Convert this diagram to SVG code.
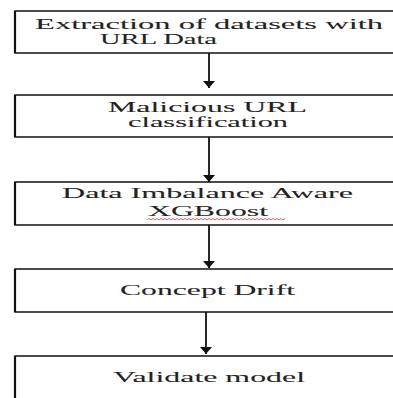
<svg xmlns="http://www.w3.org/2000/svg" width="393" height="398" viewBox="0 0 393 398">
  <style>
    .box { fill: #ffffff; stroke: #111111; stroke-width: 1.5; }
    .edge { stroke: #111111; stroke-width: 2.2; }
    .label { font-family: "Liberation Serif", "DejaVu Serif", serif; font-size: 15px; fill: #222222; stroke: #444444; stroke-width: 0.1; }
    .link { stroke: #111111; stroke-width: 1.8; fill: none; marker-end: url(#head); }
    .squiggle { stroke: #e05050; stroke-width: 0.9; fill: none; }
  </style>
  <defs>
    <marker id="head" markerUnits="userSpaceOnUse" markerWidth="8" markerHeight="13" refX="7" refY="6.5" orient="auto" viewBox="0 0 8 13">
      <path d="M0,0.5 L7,6.5 L0,12.5 Z" fill="#111111"/>
    </marker>
  </defs>
  <rect width="393" height="398" fill="#ffffff"/>

  <g id="connectors">
    <path class="link" d="M209,53 V88"/>
    <path class="link" d="M209,137 V182"/>
    <path class="link" d="M209,225 V268"/>
    <path class="link" d="M206,312 V354"/>
  </g>

  <g id="extraction">
    <rect class="box" x="15" y="11" width="400" height="42"/>
    <line class="edge" x1="15" y1="11" x2="15" y2="53"/>
    <text class="label" x="35" y="29" textLength="348" lengthAdjust="spacingAndGlyphs">Extraction of datasets with</text>
    <text class="label" x="100" y="44" textLength="117" lengthAdjust="spacingAndGlyphs">URL Data</text>
  </g>

  <g id="classification">
    <rect class="box" x="15" y="95" width="400" height="42"/>
    <line class="edge" x1="15" y1="95" x2="15" y2="137"/>
    <text class="label" x="108" y="112" textLength="199" lengthAdjust="spacingAndGlyphs">Malicious URL</text>
    <text class="label" x="128" y="127" textLength="160" lengthAdjust="spacingAndGlyphs">classification</text>
  </g>

  <g id="xgboost">
    <rect class="box" x="15" y="182" width="400" height="43"/>
    <line class="edge" x1="15" y1="182" x2="15" y2="225"/>
    <text class="label" x="62" y="198" textLength="291" lengthAdjust="spacingAndGlyphs">Data Imbalance Aware</text>
    <text class="label" x="148" y="216" textLength="120" lengthAdjust="spacingAndGlyphs">XGBoost</text>
    <path class="squiggle" d="M147,220 l2,-1.5 l2,1.5 l2,-1.5 l2,1.5 l2,-1.5 l2,1.5 l2,-1.5 l2,1.5 l2,-1.5 l2,1.5 l2,-1.5 l2,1.5 l2,-1.5 l2,1.5 l2,-1.5 l2,1.5 l2,-1.5 l2,1.5 l2,-1.5 l2,1.5 l2,-1.5 l2,1.5 l2,-1.5 l2,1.5 l2,-1.5 l2,1.5 l2,-1.5 l2,1.5 l2,-1.5 l2,1.5 l2,-1.5 l2,1.5 l2,-1.5 l2,1.5 l2,-1.5 l2,1.5 l2,-1.5 l2,1.5 l2,-1.5 l2,1.5 l2,-1.5 l2,1.5 l2,-1.5 l2,1.5 l2,-1.5 l2,1.5 l2,-1.5 l2,1.5 l2,-1.5 l2,1.5 l2,-1.5 l2,1.5 l2,-1.5 l2,1.5 l2,-1.5 l2,1.5 l2,-1.5 l2,1.5 l2,-1.5 l2,1.5 l2,-1.5 l2,1.5 l2,-1.5 l2,1.5 l2,-1.5 l2,1.5 l2,-1.5 l2,1.5 l2,-1.5"/>
  </g>

  <g id="concept-drift">
    <rect class="box" x="15" y="269" width="400" height="43"/>
    <line class="edge" x1="15" y1="269" x2="15" y2="312"/>
    <text class="label" x="120" y="295" textLength="175" lengthAdjust="spacingAndGlyphs">Concept Drift</text>
  </g>

  <g id="validate">
    <rect class="box" x="15" y="356" width="400" height="60"/>
    <line class="edge" x1="15" y1="356" x2="15" y2="416"/>
    <text class="label" x="113" y="382" textLength="192" lengthAdjust="spacingAndGlyphs">Validate model</text>
  </g>
</svg>
